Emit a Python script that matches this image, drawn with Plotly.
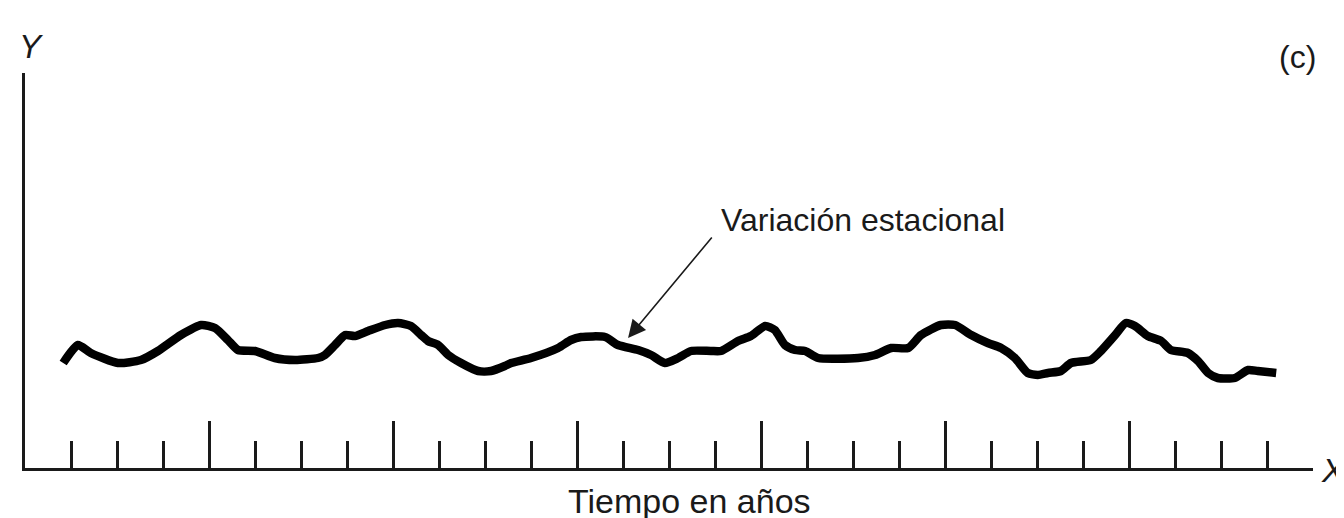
import plotly.graph_objects as go

# Time in quarters (x) and series level (y, arbitrary units)
quarters = [0.83, 1.15, 1.43, 2.02, 2.52, 2.89, 3.39, 3.83, 4.13, 4.41, 4.63, 5.00, 5.43, 5.87,
            6.37, 6.52, 6.74, 6.96, 7.17, 7.46, 7.83, 8.11, 8.39, 8.61, 8.76, 8.98, 9.20, 9.48,
            9.85, 10.13, 10.43, 10.57, 11.00, 11.59, 11.87, 12.09, 12.61, 12.89, 13.33, 13.61,
            13.91, 14.20, 14.48, 14.91, 15.13, 15.50, 15.78, 16.09, 16.30, 16.52, 16.74, 16.96,
            17.24, 18.11, 18.48, 18.83, 19.20, 19.48, 19.91, 20.22, 20.57, 20.93, 21.22, 21.52,
            21.80, 22.02, 22.24, 22.52, 22.74, 23.17, 23.39, 23.70, 23.93, 24.13, 24.41, 24.70,
            24.91, 25.28, 25.50, 25.72, 25.93, 26.30, 26.59, 26.80, 27.20]
values = [105, 123, 115, 105, 108, 117, 133, 143, 140, 128, 118, 117, 110, 108,
          110, 113, 123, 133, 132, 137, 143, 145, 142, 133, 127, 123, 113, 105,
          97, 97, 102, 105, 110, 120, 128, 131, 131, 123, 118, 113,
          105, 110, 117, 117, 117, 127, 132, 142, 138, 123, 118, 117,
          110, 110, 113, 120, 120, 133, 143, 143, 133, 125, 120, 110,
          95, 93, 95, 97, 105, 108, 117, 133, 145, 142, 132, 127,
          118, 115, 107, 95, 90, 90, 98, 97, 95]

year_ticks = [4, 8, 12, 16, 20, 24]
quarter_ticks = [q for q in range(1, 28) if q % 4 != 0]

font_family = "Liberation Sans, Arial, Helvetica, sans-serif"
ink = "#1a1a1a"

fig = go.Figure()
fig.add_trace(go.Scatter(
    x=quarters, y=values, mode="lines",
    line=dict(color="black", width=8.5, shape="spline", smoothing=0.6),
    hoverinfo="skip", showlegend=False,
))

fig.update_layout(
    width=1344, height=518,
    margin=dict(l=17, r=39, t=65, b=58),
    paper_bgcolor="white", plot_bgcolor="white",
    xaxis=dict(range=[0, 28], showgrid=False, zeroline=False,
               showline=True, linecolor=ink, linewidth=3,
               ticks="inside", tickmode="array", tickvals=year_ticks,
               ticklen=47, tickwidth=3, tickcolor=ink, showticklabels=False,
               minor=dict(ticks="inside", tickmode="array", tickvals=quarter_ticks,
                          ticklen=27, tickwidth=3, tickcolor=ink, showgrid=False)),
    yaxis=dict(range=[0, 395], showgrid=False, zeroline=False,
               showline=True, linecolor=ink, linewidth=3,
               ticks="", showticklabels=False),
    font=dict(family=font_family, color=ink),
)

def label(text, xp, yp, size, italic=False):
    fig.add_annotation(
        text=f"<i>{text}</i>" if italic else text,
        xref="paper", yref="paper", x=xp, y=yp,
        xanchor="center", yanchor="middle", showarrow=False,
        font=dict(family=font_family, size=size, color=ink),
    )

label("Y", 0.0047, 1.0668, 33, italic=True)
label("X", 1.0163, -0.0063, 34, italic=True)
label("(c)", 0.988, 1.0408, 32)
label("Tiempo en años", 0.5163, -0.084, 34)
label("Variación estacional", 0.6506, 0.628, 32)

# Arrow pointing at the curve
fig.add_annotation(
    x=13.11, y=130, xref="x", yref="y", text="",
    showarrow=True, ax=85, ay=-102, axref="pixel", ayref="pixel",
    arrowhead=2, arrowsize=2.2, arrowwidth=1.6, arrowcolor=ink,
)

fig.write_html("out.html")
